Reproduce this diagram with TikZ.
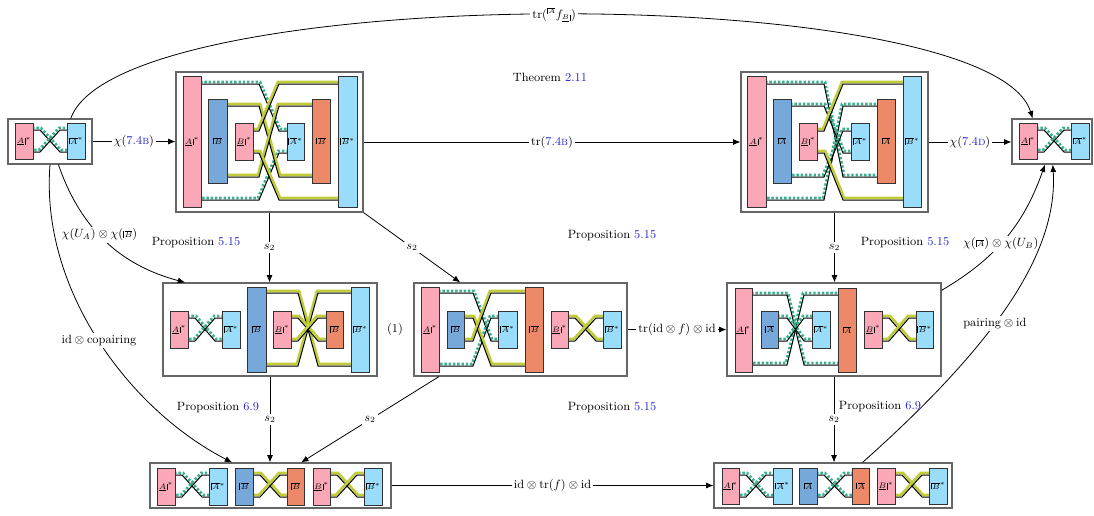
\documentclass[tikz,border=0pt]{standalone}
\usetikzlibrary{arrows.meta,calc}
\definecolor{pinkC}{RGB}{250,168,184}
\definecolor{lblueC}{RGB}{153,221,250}
\definecolor{blueC}{RGB}{118,168,218}
\definecolor{orangeC}{RGB}{236,137,105}
\definecolor{oliveC}{RGB}{192,204,58}
\definecolor{tealC}{RGB}{58,178,146}
\definecolor{lnk}{RGB}{35,35,210}
% corner marks: \lc = top-left corner, \rc = bottom-right corner
\newcommand{\lc}[1]{\hbox{\vrule width .35pt\kern.7pt\vbox{\hrule height .35pt\kern.7pt\hbox{$#1$}}}}
\newcommand{\rc}[1]{\hbox{\vtop{\hbox{$#1$}\kern.7pt\hrule height .35pt}\kern.7pt\vrule width .35pt}}
\newcommand{\Bx}[7]{\node[#2,minimum width={(#5-#3)*0.75pt},minimum height={(#6-#4)*0.75pt}] (#1) at ({(#3+#5)/2},{(#4+#6)/2}) {#7};}
\newcommand{\W}[7]{%
  \pgfmathsetmacro\wsx{ifthenelse(#6>#3,1.1,ifthenelse(#6<#3,-1.1,0))}%
  \draw[#1,shift={(\wsx,-2.0)}] (#2-2,#3) -- (#4,#3) -- (#5,#6) -- (#7+2,#6);
  \draw[blk] (#2-1,#3) -- (#4,#3) -- (#5,#6) -- (#7+1,#6);}
\begin{document}
\begin{tikzpicture}[x=0.75pt,y=-0.75pt,
  every node/.style={font=\fontsize{9}{11}\selectfont},
  frm/.style={draw=black!60,line width=0.85pt,fill=white,inner sep=0pt},
  box/.style={draw=black!80,line width=0.5pt,inner sep=0pt,font=\fontsize{6}{7}\selectfont},
  pk/.style={box,fill=pinkC},
  lb/.style={box,fill=lblueC},
  bl/.style={box,fill=blueC},
  og/.style={box,fill=orangeC},
  blk/.style={black,line width=0.75pt},
  olv/.style={oliveC,line width=2pt},
  tl/.style={tealC,line width=2pt,dash pattern=on 1.8pt off 1.4pt},
  arr/.style={-{Latex[length=5.5pt,width=4.5pt]},line width=0.6pt},
  lbl/.style={fill=white,inner sep=1.5pt}]
\useasboundingbox (0,0) rectangle (1094,515);

% ---------- frames ----------
\Bx{TL}{frm}{8}{119}{92}{164}{}
\Bx{T1}{frm}{176}{72}{363}{212}{}
\Bx{T2}{frm}{741}{72}{928}{212}{}
\Bx{TR}{frm}{1012}{119}{1092}{164}{}
\Bx{M1}{frm}{163}{283}{377}{376}{}
\Bx{M2}{frm}{414}{283}{627}{376}{}
\Bx{M3}{frm}{727}{283}{941}{376}{}
\Bx{B1}{frm}{150}{463}{391}{508}{}
\Bx{B2}{frm}{714}{463}{952}{508}{}

% ---------- wires ----------
% TL
\W{tl}{33}{130}{40}{60}{152}{67}
\W{tl}{33}{152}{40}{60}{130}{67}
% T1
\W{tl}{201}{84}{259}{279}{131}{287}
\W{tl}{201}{200}{259}{279}{153}{287}
\W{olv}{227}{106}{259}{279}{177}{312}
\W{olv}{227}{177}{259}{279}{106}{312}
\W{olv}{253}{131}{259}{279}{84}{338}
\W{olv}{253}{153}{259}{279}{200}{338}
% T2
\W{tl}{766}{84}{824}{843}{177}{877}
\W{tl}{766}{200}{824}{843}{106}{877}
\W{tl}{791}{106}{824}{843}{153}{851}
\W{tl}{791}{177}{824}{843}{131}{851}
\W{olv}{817}{131}{824}{843}{84}{903}
\W{olv}{817}{153}{824}{843}{200}{903}
% TR
\W{tl}{1037}{130}{1044}{1064}{152}{1071}
\W{tl}{1037}{152}{1044}{1064}{130}{1071}
% M1
\W{tl}{188}{318}{195}{215}{341}{222}
\W{tl}{188}{341}{195}{215}{318}{222}
\W{olv}{266}{293}{298}{318}{366}{351}
\W{olv}{266}{366}{298}{318}{293}{351}
\W{olv}{291}{318}{298}{318}{341}{326}
\W{olv}{291}{341}{298}{318}{318}{326}
% M2
\W{tl}{439}{293}{473}{491}{341}{498}
\W{tl}{439}{366}{473}{491}{318}{498}
\W{olv}{464}{318}{473}{491}{366}{525}
\W{olv}{464}{341}{473}{491}{293}{525}
\W{olv}{568}{318}{575}{596}{341}{603}
\W{olv}{568}{341}{575}{596}{318}{603}
% M3
\W{tl}{752}{295}{787}{804}{365}{838}
\W{tl}{752}{365}{787}{804}{295}{838}
\W{tl}{778}{318}{787}{804}{341}{812}
\W{tl}{778}{341}{787}{804}{318}{812}
\W{olv}{882}{318}{889}{909}{341}{916}
\W{olv}{882}{341}{889}{909}{318}{916}
% B1
\W{tl}{175}{475}{182}{202}{497}{209}
\W{tl}{175}{497}{182}{202}{475}{209}
\W{olv}{253}{475}{260}{280}{497}{287}
\W{olv}{253}{497}{260}{280}{475}{287}
\W{olv}{330}{475}{337}{357}{497}{364}
\W{olv}{330}{497}{337}{357}{475}{364}
% B2
\W{tl}{739}{475}{746}{766}{497}{773}
\W{tl}{739}{497}{746}{766}{475}{773}
\W{tl}{817}{475}{824}{845}{497}{852}
\W{tl}{817}{497}{824}{845}{475}{852}
\W{olv}{895}{475}{902}{922}{497}{929}
\W{olv}{895}{497}{902}{922}{475}{929}

% ---------- boxes ----------
% TL
\Bx{tl1}{pk}{15}{123}{33}{159}{$\rc{A}^{*}$}
\Bx{tl2}{lb}{67}{123}{85}{159}{$\lc{A}^{*}$}
% T1
\Bx{a1}{pk}{183}{76}{201}{207}{$\rc{A}^{*}$}
\Bx{a2}{bl}{208}{99}{227}{183}{$\lc{B}$}
\Bx{a3}{pk}{235}{123}{253}{160}{$\rc{B}^{*}$}
\Bx{a4}{lb}{287}{123}{304}{160}{$\lc{A}^{*}$}
\Bx{a5}{og}{312}{99}{330}{183}{$\lc{B}$}
\Bx{a6}{lb}{338}{76}{357}{207}{$\lc{B}^{*}$}
% T2
\Bx{c1}{pk}{747}{76}{766}{207}{$\rc{A}^{*}$}
\Bx{c2}{bl}{773}{99}{791}{183}{$\lc{A}$}
\Bx{c3}{pk}{799}{123}{817}{160}{$\rc{B}^{*}$}
\Bx{c4}{lb}{851}{123}{869}{160}{$\lc{A}^{*}$}
\Bx{c5}{og}{877}{99}{895}{183}{$\lc{A}$}
\Bx{c6}{lb}{903}{76}{921}{207}{$\lc{B}^{*}$}
% TR
\Bx{tr1}{pk}{1019}{123}{1037}{159}{$\rc{A}^{*}$}
\Bx{tr2}{lb}{1071}{123}{1089}{159}{$\lc{A}^{*}$}
% M1
\Bx{d1}{pk}{170}{311}{188}{348}{$\rc{A}^{*}$}
\Bx{d2}{lb}{222}{311}{240}{348}{$\lc{A}^{*}$}
\Bx{d3}{bl}{247}{287}{266}{372}{$\lc{B}$}
\Bx{d4}{pk}{273}{311}{291}{348}{$\rc{B}^{*}$}
\Bx{d5}{og}{326}{311}{343}{348}{$\lc{B}$}
\Bx{d6}{lb}{351}{287}{369}{372}{$\lc{B}^{*}$}
% M2
\Bx{e1}{pk}{421}{287}{439}{372}{$\rc{A}^{*}$}
\Bx{e2}{bl}{447}{311}{464}{348}{$\lc{B}$}
\Bx{e3}{lb}{498}{311}{517}{348}{$\lc{A}^{*}$}
\Bx{e4}{og}{525}{287}{543}{372}{$\lc{B}$}
\Bx{e5}{pk}{551}{311}{568}{348}{$\rc{B}^{*}$}
\Bx{e6}{lb}{603}{311}{621}{348}{$\lc{B}^{*}$}
% M3
\Bx{f1}{pk}{735}{288}{752}{372}{$\rc{A}^{*}$}
\Bx{f2}{bl}{761}{311}{778}{348}{$\lc{A}$}
\Bx{f3}{lb}{812}{311}{830}{348}{$\lc{A}^{*}$}
\Bx{f4}{og}{838}{288}{856}{372}{$\lc{A}$}
\Bx{f5}{pk}{864}{311}{882}{348}{$\rc{B}^{*}$}
\Bx{f6}{lb}{916}{311}{933}{348}{$\lc{B}^{*}$}
% B1
\Bx{g1}{pk}{157}{468}{175}{505}{$\rc{A}^{*}$}
\Bx{g2}{lb}{209}{468}{227}{505}{$\lc{A}^{*}$}
\Bx{g3}{bl}{235}{468}{253}{505}{$\lc{B}$}
\Bx{g4}{og}{287}{468}{304}{505}{$\lc{B}$}
\Bx{g5}{pk}{313}{468}{330}{505}{$\rc{B}^{*}$}
\Bx{g6}{lb}{364}{468}{382}{505}{$\lc{B}^{*}$}
% B2
\Bx{h1}{pk}{722}{468}{739}{504}{$\rc{A}^{*}$}
\Bx{h2}{lb}{773}{468}{792}{504}{$\lc{A}^{*}$}
\Bx{h3}{bl}{799}{468}{817}{504}{$\lc{A}$}
\Bx{h4}{og}{852}{468}{869}{504}{$\lc{A}$}
\Bx{h5}{pk}{877}{468}{895}{504}{$\rc{B}^{*}$}
\Bx{h6}{lb}{929}{468}{947}{504}{$\lc{B}^{*}$}

% ---------- texts ----------
\node (thm) at (550,77) {Theorem \textcolor{lnk}{2.11}};
\node (p1) at (196,243) {Proposition \textcolor{lnk}{5.15}};
\node (p2) at (612,236) {Proposition \textcolor{lnk}{5.15}};
\node (p3) at (905,243) {Proposition \textcolor{lnk}{5.15}};
\node (p4) at (612,408) {Proposition \textcolor{lnk}{5.15}};
\node (p5) at (218,408) {Proposition \textcolor{lnk}{6.9}};
\node (p6) at (880,407) {Proposition \textcolor{lnk}{6.9}};
\node (one) at (395,329) {(1)};

% ---------- connectors ----------
\draw[arr] (TL.east) -- node[lbl] {$\chi$(\textcolor{lnk}{7.4\textsc{b}})} (TL.east -| T1.west);
\draw[arr] (T1.east) -- node[lbl] {tr(\textcolor{lnk}{7.4\textsc{b}})} (T1.east -| T2.west);
\draw[arr] (T2.east) -- node[lbl] {$\chi$(\textcolor{lnk}{7.4\textsc{d}})} (T2.east -| TR.west);
\draw[arr] (TL.48) .. controls (120,-20) and (990,-20) .. node[lbl,pos=0.5] {tr$({}^{\lc{\scriptscriptstyle A}}f_{\rc{\scriptscriptstyle B}})$} (TR.130);
\draw[arr] (T1.south) -- node[lbl] {$s_2$} (T1.south |- M1.north);
\draw[arr] (T1.south east) -- node[lbl] {$s_2$} (M2.142);
\draw[arr] (TL.-70) to[bend right=28] node[lbl,pos=0.45] {$\chi(U_A)\otimes\chi(\lc{\scriptstyle B})$} (M1.151);
\draw[arr] (TL.south) .. controls (40,290) and (130,410) .. node[lbl,pos=0.5] {id${}\otimes{}$copairing} (B1.149);
\draw[arr] (M1.south) -- node[lbl] {$s_2$} (M1.south |- B1.north);
\draw[arr] (M2.210) -- node[lbl] {$s_2$} (B1.37);
\draw[arr] (M2.east) -- node[lbl] {tr(id${}\otimes f$)${}\otimes{}$id} (M2.east -| M3.west);
\draw[arr] (T2.south) -- node[lbl] {$s_2$} (T2.south |- M3.north);
\draw[arr] (M3.south) -- node[lbl] {$s_2$} (M3.south |- B2.north);
\draw[arr] (B1.east) -- node[lbl] {id${}\otimes{}$tr($f$)${}\otimes{}$id} (B1.east -| B2.west);
\draw[arr] (M3.20) to[bend right=20] node[lbl,pos=0.45] {$\chi(\lc{\scriptstyle A})\otimes\chi(U_B)$} (TR.253);
\draw[arr] (B2.38) .. controls (1000,340) and (1058,250) .. node[lbl,pos=0.42] {pairing${}\otimes{}$id} (TR.272);
\end{tikzpicture}
\end{document}
